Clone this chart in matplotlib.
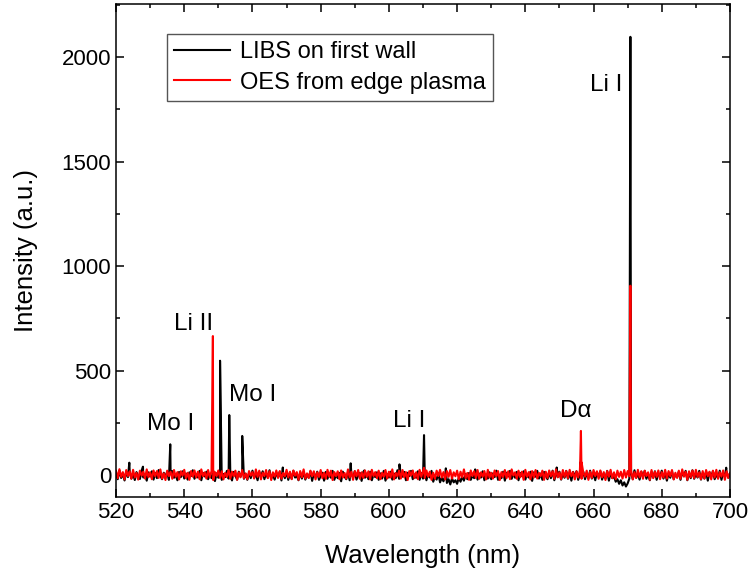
import numpy as np
import matplotlib.pyplot as plt
from matplotlib.ticker import MultipleLocator

plt.rcParams['font.family'] = ['Liberation Sans', 'DejaVu Sans']

wl_start = 520.0
wl_step = 0.5

libs_base = [
    8, -20, 22, -14, 5, -26, 16, -10, 19, -17, 6, -24, 14, -5, -19, 21, -12, 3, -27, 13,
    -7, 18, -22, 10, -15, 24, -4, -20, 11, -9, 16, -23, 5, 19, -13, -2, -25, 15, -10, 18,
    -17, 7, -22, 13, -5, 23, -18, 3, -12, 20, -25, 10, -7, 16, -20, 2, -15, 21, -29, 8,
    -13, 18, -23, 5, -10, 20, -17, 11, -26, 15, -4, -22, 16, -8, 13, -18, 6, -23, 10, -15,
    21, -12, 3, -25, 15, -7, 18, -20, 8, -13, 23, -17, 2, -22, 11, -10, 16, -26, 5, -15,
    13, -23, 7, -18, 20, -12, -4, -25, 10, -17, 15, -22, 4, -13, 18, -28, 8, -10, 16, -23,
    -5, 11, -27, 15, -18, 7, -13, 20, -23, 2, -15, 10, -30, 16, -8, -20, 13, -25, 5, -12,
    18, -22, -3, 10, -28, 15, -13, 7, -20, 16, -25, 3, -10, 13, -23, 8, -17, 20, -27, 5,
    -12, 16, -22, 7, -15, 23, -18, 2, -8, 15, -25, 11, -5, 20, -20, 3, -13, 18, -23, 10,
    -17, 13, -25, 5, -12, 20, -32, -7, -22, 8, -35, -13, -30, -5, -38, -20, -45, -16, -35, -25,
    -42, -13, -32, -8, -27, 5, -20, 10, -23, -3, -15, 16, -22, 7, -12, 18, -25, 3, -17, 13,
    -20, 8, -10, 21, -23, 2, -15, 16, -27, 11, -7, 20, -18, 5, -13, 15, -25, 10, -5, 18,
    -22, 3, -12, 16, -28, 13, -8, 20, -17, 7, -23, 15, -3, -20, 11, -15, 21, -25, 8, -10,
    16, -22, 5, -13, 20, -18, 10, -27, 15, -7, 18, -23, 3, -12, 16, -20, 8, -15, 21, -17,
    7, -25, 13, -10, 18, -22, 2, -17, 20, -27, 11, -15, -8, -32, -20, -42, -25, -50, -35, -55,
    -40, -17, 10, -20, 23, -13, 5, -22, 16, -8, 20, -18, 3, -25, 15, -12, 18, -23, 8, -7,
    21, -17, 11, -27, 7, -13, 18, -20, 3, -10, 16, -23, 13, -5, 20, -25, 10, -15, 23, -18,
    5, -12, 20, -22, 8, -17, 15, -27, 13, -7, 18, -20, 3, -15, 21, -23, 10, -8, 16, -13,
    7,
]

oes_base = [
    20, -15, 28, -9, 14, -21, 24, -5, 18, -18, 25, -12, 10, -22, 21, -3, 16, -17, 27, -10,
    13, -20, 22, -6, 19, -14, 27, -17, 8, -24, 21, -5, 16, -18, 24, -9, 14, -21, 18, -3,
    25, -15, 11, -23, 19, -8, 22, -12, 16, -20, 27, -6, 13, -17, 24, -11, 19, -24, 14, -5,
    22, -14, 18, -21, 10, -9, 25, -18, 16, -6, 21, -23, 13, -11, 24, -15, 8, -20, 19, -3,
    14, -17, 27, -9, 21, -21, 11, -5, 24, -15, 18, -24, 13, -8, 22, -14, 19, -18, 10, -6,
    25, -12, 16, -20, 22, -3, 14, -23, 19, -11, 27, -17, 8, -14, 21, -6, 18, -21, 13, -9,
    24, -15, 11, -18, 25, -8, 21, -24, 14, -5, 18, -20, 22, -12, 10, -17, 27, -11, 16, -23,
    19, -6, 24, -18, 13, -14, 22, -9, 18, -21, 25, -5, 14, -15, 21, -20, 11, -8, 24, -17,
    16, -12, 27, -21, 10, -6, 21, -17, 24, -11, 14, -24, 19, -3, 22, -15, 13, -20, 25, -9,
    18, -14, 22, -8, 16, -23, 11, -18, 21, -5, 25, -12, 14, -21, 19, -9, 24, -17, 13, -6,
    21, -20, 16, -11, 27, -15, 10, -23, 22, -5, 18, -14, 24, -18, 13, -8, 19, -21, 25, -12,
    11, -17, 22, -6, 19, -24, 14, -9, 24, -15, 18, -20, 27, -3, 13, -18, 21, -11, 16, -23,
    25, -8, 14, -21, 19, -12, 24, -17, 10, -5, 21, -23, 16, -14, 22, -6, 18, -18, 27, -11,
    13, -20, 24, -9, 19, -15, 25, -6, 14, -21, 18, -12, 22, -18, 11, -8, 21, -23, 16, -14,
    24, -5, 18, -18, 22, -11, 14, -24, 19, -8, 25, -15, 13, -20, 21, -9, 16, -17, 24, -12,
    19, -6, 22, -21, 14, -14, 25, -11, 18, -18, 21, -5, 13, -23, 24, -15, 16, -9, 22, -20,
    14, -12, 25, -17, 19, -6, 24, -21, 11, -14, 21, -18, 27, -8, 16, -23, 18, -11, 22, -15,
    25, -9, 13, -20, 19, -17, 24, -6, 16, -21, 21, -12, 25, -18, 14, -8, 22, -23, 18, -14,
    10,
]

# emission lines (nm, counts)
libs_peak_wl = [523.9, 527.9, 535.9, 550.5, 553.2, 557.0, 568.9, 588.8, 592.8,
                603.1, 610.3, 616.7, 625.3, 649.2, 656.2, 670.8, 698.9]
libs_peak_int = [59, 40, 147, 547, 287, 187, 36, 56, 22,
                 51, 191, 32, 27, 36, 62, 2097, 35]

oes_peak_wl = [548.4, 610.3, 656.1, 656.3, 656.5, 670.8]
oes_peak_int = [665, 35, 70, 211, 60, 906]

line_names = ['Mo I', 'Li II', 'Mo I', 'Li I', 'D\u03b1', 'Li I']


def build(base, pk_wl, pk_int):
    wl = wl_start + wl_step * np.arange(len(base))
    x = np.concatenate([wl, pk_wl])
    y = np.concatenate([base, pk_int])
    order = np.argsort(x, kind='stable')
    return x[order], y[order]


libs_x, libs_y = build(libs_base, libs_peak_wl, libs_peak_int)
oes_x, oes_y = build(oes_base, oes_peak_wl, oes_peak_int)

fig = plt.figure(figsize=(7.49, 5.75), dpi=100)
ax = fig.add_axes([0.1549, 0.1357, 0.8197, 0.8573])

ax.plot(libs_x, libs_y, color='black', lw=1.5, label='LIBS on first wall')
ax.plot(oes_x, oes_y, color='red', lw=1.5, label='OES from edge plasma')

ax.set_xlim(520, 700)
ax.set_ylim(-105, 2254)
ax.xaxis.set_major_locator(MultipleLocator(20))
ax.xaxis.set_minor_locator(MultipleLocator(10))
ax.yaxis.set_major_locator(MultipleLocator(500))
ax.yaxis.set_minor_locator(MultipleLocator(250))
ax.tick_params(which='both', direction='in', top=True, right=True,
               width=1.1, labelsize=16)
ax.tick_params(which='major', length=5.5)
ax.tick_params(which='minor', length=2.8)
for s in ax.spines.values():
    s.set_linewidth(1.1)

ax.set_xlabel('Wavelength (nm)', fontsize=18.5, labelpad=15)
ax.set_ylabel('Intensity (a.u.)', fontsize=18.5, labelpad=17)

# line labels
pos = [(536.1, 215), (542.6, 694), (560.0, 355), (605.9, 230), (654.9, 278), (663.7, 1839)]
for name, (px, py) in zip(line_names, pos):
    ax.text(px, py, name, fontsize=17.5, ha='center', va='baseline')

leg = ax.legend(loc='upper left', bbox_to_anchor=(0.0826, 0.9385), borderaxespad=0,
                fontsize=17, handlelength=2.4, handletextpad=0.4, labelspacing=0.35,
                borderpad=0.3, fancybox=False, edgecolor='#555555', framealpha=1)
leg.get_frame().set_linewidth(1.0)

fig.savefig('out.png', dpi=100)
